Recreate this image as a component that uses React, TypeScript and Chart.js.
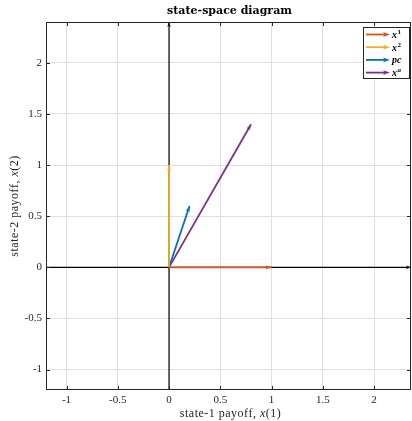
import React, { useEffect, useRef } from 'react';
import { Chart, registerables } from 'chart.js';
Chart.register(...registerables);

// ---- data ----
const vectorNames = ['x', 'x', 'pc', 'x'];
const vectorSups = ['1', '2', '', 'a'];
const vectorX = [1, 0, 0.2, 0.8];
const vectorY = [0, 1, 0.6, 1.4];
const vectorColors = ['#D95319', '#EDB120', '#0072BD', '#7E2F8E'];
const xTicks = [-1, -0.5, 0, 0.5, 1, 1.5, 2];
const yTicks = [-1, -0.5, 0, 0.5, 1, 1.5, 2];
const xRange = [-1.2, 2.36];
const yRange = [-1.2, 2.4];
const titleText = 'state-space diagram';
const xTitleParts: [string, boolean][] = [['state-1 payoff, ', false], ['x', true], ['(1)', false]];
const yTitleParts: [string, boolean][] = [['state-2 payoff, ', false], ['x', true], ['(2)', false]];

const SERIF = '"Liberation Serif", "DejaVu Serif", serif';
const AXC = '#262626';

function drawHead(ctx: CanvasRenderingContext2D, x0: number, y0: number, x1: number, y1: number, color: string, len = 6, w = 2) {
  const a = Math.atan2(y1 - y0, x1 - x0);
  const c = Math.cos(a), s = Math.sin(a);
  const bx = x1 - c * len, by = y1 - s * len;
  const nx = x1 - c * len * 0.75, ny = y1 - s * len * 0.75;
  ctx.save();
  ctx.fillStyle = color;
  ctx.beginPath();
  ctx.moveTo(x1, y1);
  ctx.lineTo(bx - s * w, by + c * w);
  ctx.lineTo(nx, ny);
  ctx.lineTo(bx + s * w, by - c * w);
  ctx.closePath();
  ctx.fill();
  ctx.restore();
}

function drawParts(ctx: CanvasRenderingContext2D, parts: [string, boolean][], size: number) {
  (ctx as any).letterSpacing = '0.5px';
  let total = 0;
  const ws: number[] = [];
  for (const [t, it] of parts) {
    ctx.font = `${it ? 'italic ' : ''}${size}px ${SERIF}`;
    const w = ctx.measureText(t).width;
    ws.push(w);
    total += w;
  }
  let x = -total / 2;
  parts.forEach(([t, it], i) => {
    ctx.font = `${it ? 'italic ' : ''}${size}px ${SERIF}`;
    ctx.fillText(t, x, 0);
    x += ws[i];
  });
  (ctx as any).letterSpacing = '0px';
}

const overlay = {
  id: 'overlay',
  afterDatasetsDraw(chart: any) {
    const ctx: CanvasRenderingContext2D = chart.ctx;
    const { left, right, top, bottom } = chart.chartArea;
    const xs = chart.scales.x, ys = chart.scales.y;
    // arrowheads (axes first, then vectors on top)
    const order = chart.data.datasets.map((_: any, i: number) => i).reverse();
    order.forEach((i: number) => {
      const ds = chart.data.datasets[i];
      const pts = chart.getDatasetMeta(i).data;
      if (pts.length < 2) return;
      const p0 = pts[0], p1 = pts[pts.length - 1];
      const isAxis = ds.isAxis;
      drawHead(ctx, p0.x, p0.y, p1.x, p1.y, ds.borderColor, isAxis ? 5 : 6, isAxis ? 1.8 : 2);
    });
    // box
    ctx.save();
    ctx.strokeStyle = AXC;
    ctx.lineWidth = 1;
    ctx.strokeRect(left + 0.5, top + 0.5, right - left - 1, bottom - top - 1);
    // inner ticks
    const tl = 4;
    ctx.beginPath();
    xTicks.forEach(v => {
      const px = Math.round(xs.getPixelForValue(v)) + 0.5;
      ctx.moveTo(px, bottom); ctx.lineTo(px, bottom - tl);
      ctx.moveTo(px, top); ctx.lineTo(px, top + tl);
    });
    yTicks.forEach(v => {
      const py = Math.round(ys.getPixelForValue(v)) + 0.5;
      ctx.moveTo(left, py); ctx.lineTo(left + tl, py);
      ctx.moveTo(right, py); ctx.lineTo(right - tl, py);
    });
    ctx.stroke();
    // title
    ctx.fillStyle = '#000';
    ctx.font = `bold 11px "DejaVu Serif", serif`;
    ctx.textAlign = 'center';
    ctx.textBaseline = 'middle';
    ctx.fillText(titleText, (left + right) / 2 + 1, 11);
    // axis titles
    ctx.fillStyle = AXC;
    ctx.textAlign = 'left';
    ctx.textBaseline = 'middle';
    ctx.save();
    ctx.translate((left + right) / 2 + 2, 414);
    drawParts(ctx, xTitleParts, 12);
    ctx.restore();
    ctx.save();
    ctx.translate(15, (top + bottom) / 2);
    ctx.rotate(-Math.PI / 2);
    drawParts(ctx, yTitleParts, 12);
    ctx.restore();
    // legend
    const lx0 = 363, ly0 = 27, lx1 = 410, ly1 = 79;
    ctx.fillStyle = '#fff';
    ctx.fillRect(lx0, ly0, lx1 - lx0, ly1 - ly0);
    ctx.strokeStyle = AXC;
    ctx.lineWidth = 1;
    ctx.strokeRect(lx0 + 0.5, ly0 + 0.5, lx1 - lx0 - 1, ly1 - ly0 - 1);
    vectorNames.forEach((name, i) => {
      const y = 34.5 + i * 12.7;
      ctx.strokeStyle = vectorColors[i];
      ctx.lineWidth = 1.8;
      ctx.beginPath();
      ctx.moveTo(366, y);
      ctx.lineTo(386, y);
      ctx.stroke();
      drawHead(ctx, 366, y, 390, y, vectorColors[i], 7, 2.4);
      ctx.fillStyle = '#000';
      ctx.textAlign = 'left';
      ctx.textBaseline = 'alphabetic';
      ctx.font = `italic bold 10px ${SERIF}`;
      ctx.fillText(name, 392, y + 3.5);
      const w = ctx.measureText(name).width;
      if (vectorSups[i]) {
        ctx.font = `${vectorSups[i] === 'a' ? 'italic ' : ''}bold 7px ${SERIF}`;
        ctx.fillText(vectorSups[i], 392 + w + 0.5, y - 0.5);
      }
    });
    ctx.restore();
  },
};

export default function App() {
  const ref = useRef<HTMLCanvasElement>(null);
  useEffect(() => {
    const datasets: any[] = [
      ...vectorNames.map((n, i) => ({
        label: n + vectorSups[i],
        data: [{ x: 0, y: 0 }, { x: vectorX[i], y: vectorY[i] }],
        borderColor: vectorColors[i],
        borderWidth: 1.8,
      })),
      {
        data: [{ x: 0, y: yRange[0] }, { x: 0, y: yRange[1] }],
        borderColor: '#000', borderWidth: 1.2, isAxis: true,
      },
      {
        data: [{ x: xRange[0], y: 0 }, { x: xRange[1], y: 0 }],
        borderColor: '#000', borderWidth: 1.2, isAxis: true,
      },
    ].map(d => ({ ...d, showLine: true, pointRadius: 0, pointHoverRadius: 0, fill: false }));

    const tickFont = { family: SERIF, size: 11 };
    const fmt = (v: any) => String(Math.round(Number(v) * 100) / 100);
    const chart = new Chart(ref.current!, {
      type: 'scatter',
      data: { datasets },
      options: {
        animation: false,
        responsive: false,
        devicePixelRatio: 1,
        layout: { padding: { top: 22, right: 1, left: 0, bottom: 0 } },
        plugins: { legend: { display: false }, tooltip: { enabled: false }, title: { display: false } },
        scales: {
          x: {
            type: 'linear', min: xRange[0], max: xRange[1],
            afterBuildTicks: (s: any) => { s.ticks = xTicks.map(v => ({ value: v })); },
            afterFit: (s: any) => { s.height = 31; },
            grid: { color: '#e0e0e0', drawTicks: false, lineWidth: 1 },
            border: { display: false },
            ticks: { font: tickFont, color: AXC, padding: 4, maxRotation: 0, autoSkip: false, callback: fmt },
          },
          y: {
            type: 'linear', min: yRange[0], max: yRange[1],
            afterBuildTicks: (s: any) => { s.ticks = yTicks.map(v => ({ value: v })); },
            afterFit: (s: any) => { s.width = 46; },
            grid: { color: '#e0e0e0', drawTicks: false, lineWidth: 1 },
            border: { display: false },
            ticks: { font: tickFont, color: AXC, padding: 4, autoSkip: false, callback: fmt },
          },
        },
      } as any,
      plugins: [overlay],
    });
    return () => chart.destroy();
  }, []);
  return (
    <div style={{ position: 'absolute', left: 0, top: 0, width: 412, height: 421 }}>
      <canvas ref={ref} width={412} height={421} style={{ display: 'block' }} />
    </div>
  );
}
